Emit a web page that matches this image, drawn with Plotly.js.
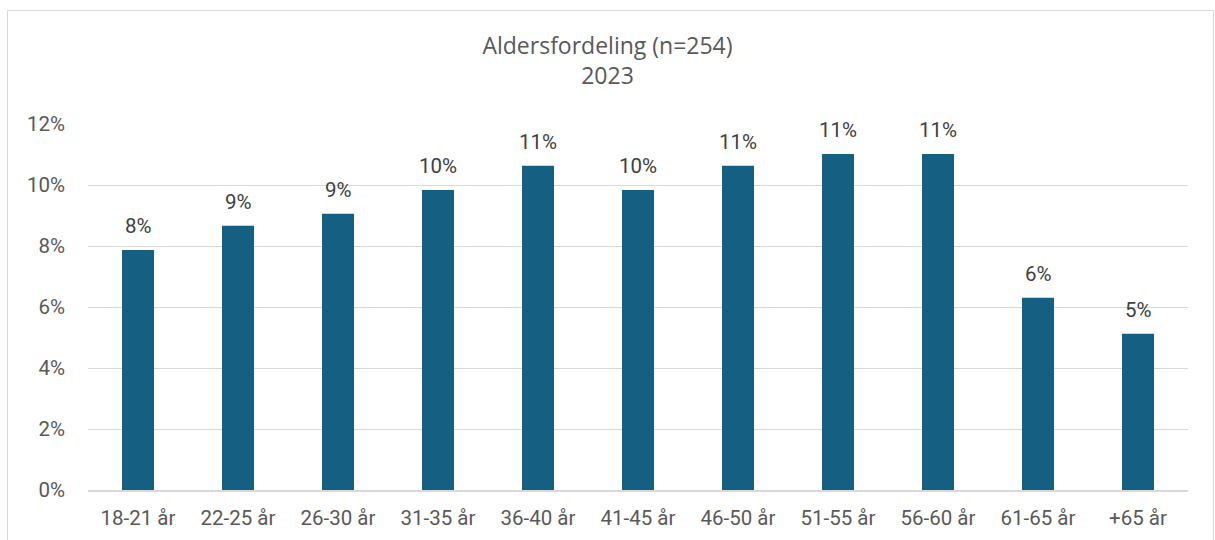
<!DOCTYPE html>
<html><head><meta charset="utf-8">
<script src="https://cdn.plot.ly/plotly-3.0.1.min.js"></script>
<style>
html,body{margin:0;padding:0;background:#fff;overflow:hidden;}
#chart{position:absolute;left:0;top:0;width:1215px;height:540px;}
#frame{position:absolute;left:7px;top:10px;width:1205px;height:560px;border:1px solid #d9d9d9;pointer-events:none;}
</style></head>
<body>
<div id="chart"></div>
<div id="frame"></div>
<script>
const categories = ["18-21 år","22-25 år","26-30 år","31-35 år","36-40 år","41-45 år","46-50 år","51-55 år","56-60 år","61-65 år","+65 år"];
const shares = [0.0787,0.0866,0.0906,0.0984,0.1063,0.0984,0.1063,0.1102,0.1102,0.0630,0.0512];
const yTicks = [0,0.02,0.04,0.06,0.08,0.10,0.12];
const yTickLabels = ["0%","2%","4%","6%","8%","10%","12%"];
const labels = shares.map(v => Math.round(v*100) + "%");

const tickFont = {family: "Roboto, sans-serif", size: 20.5, color: "#595959"};

const annotations = categories.map((c, i) => ({
  x: c, y: shares[i], xref: "x", yref: "y",
  text: labels[i], showarrow: false,
  xanchor: "center", yanchor: "middle", yshift: 24,
  font: {family: "Roboto, sans-serif", size: 20.5, color: "#404040"}
}));

Plotly.newPlot("chart", [{
  type: "bar",
  x: categories,
  y: shares,
  marker: {color: "#156082"},
  hoverinfo: "none"
}], {
  width: 1215, height: 540,
  margin: {l: 88, r: 27, t: 124, b: 50},
  paper_bgcolor: "rgba(0,0,0,0)",
  plot_bgcolor: "#fff",
  bargap: 0.68,
  showlegend: false,
  annotations: annotations,
  title: {
    text: "Aldersfordeling (n=254)<br>2023",
    font: {family: "Open Sans, sans-serif", size: 23, color: "#595959"},
    x: 0.5, xanchor: "center", y: 0.9, yanchor: "middle"
  },
  xaxis: {
    type: "category",
    showgrid: false,
    showline: true, linecolor: "#d9d9d9", linewidth: 1.5,
    ticks: "", ticklabelstandoff: 9,
    tickfont: tickFont
  },
  yaxis: {
    range: [0, 0.12],
    tickvals: yTicks, ticktext: yTickLabels,
    showgrid: true, gridcolor: "#d9d9d9", gridwidth: 1,
    zeroline: false, showline: false,
    ticks: "", ticklabelstandoff: 22,
    tickfont: tickFont
  }
}, {staticPlot: true});
</script>
</body></html>
